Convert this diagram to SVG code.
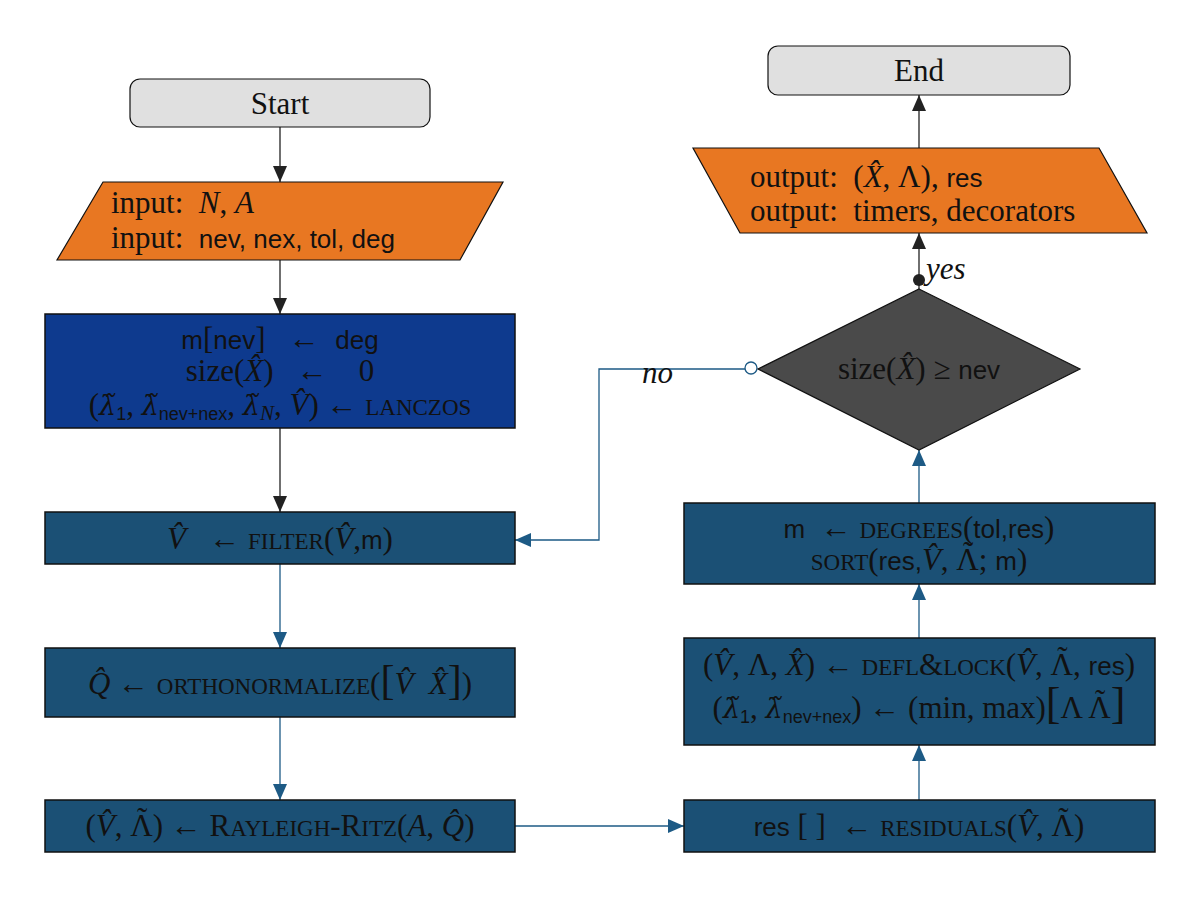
<svg xmlns="http://www.w3.org/2000/svg" width="1200" height="898" viewBox="0 0 1200 898">
<style>
text{white-space:pre}
.t{font-family:"Liberation Serif","DejaVu Serif",serif;font-size:31px;fill:#111;text-anchor:middle}
.tl{font-family:"Liberation Serif","DejaVu Serif",serif;font-size:31px;fill:#111}
.s{font-family:"Liberation Sans","DejaVu Sans",sans-serif;font-size:26px}
.i{font-style:italic}
.d{font-family:"DejaVu Serif",serif;font-size:27px}
.sc{font-size:23px}
.sub{font-family:"Liberation Sans","DejaVu Sans",sans-serif;font-size:18px}
.term{fill:#e0e0e0;stroke:#111;stroke-width:1.2}
.io{fill:#e87722;stroke:#111;stroke-width:1.2}
.init{fill:#0e3a8e;stroke:#111;stroke-width:1.5}
.proc{fill:#1b5075;stroke:#111;stroke-width:1.5}
.dec{fill:#4a4a4a;stroke:#111;stroke-width:1.2}
.ck{stroke:#222;stroke-width:1.3;fill:none}
.cb{stroke:#1d5a85;stroke-width:1.3;fill:none}
</style>
<defs>
<marker id="ak" viewBox="0 0 16 14" refX="16" refY="7" markerWidth="16" markerHeight="14" markerUnits="userSpaceOnUse" orient="auto"><path d="M0,0 L16,7 L0,14 Z" fill="#222"/></marker>
<marker id="ab" viewBox="0 0 16 14" refX="16" refY="7" markerWidth="16" markerHeight="14" markerUnits="userSpaceOnUse" orient="auto"><path d="M0,0 L16,7 L0,14 Z" fill="#1d5a85"/></marker>
</defs>
<rect width="1200" height="898" fill="#fff"/>

<g id="connectors">
<path class="ck" d="M280,127 V182" marker-end="url(#ak)"/>
<path class="ck" d="M280,260 V314" marker-end="url(#ak)"/>
<path class="ck" d="M280,428 V512" marker-end="url(#ak)"/>
<path class="cb" d="M280,564 V648" marker-end="url(#ab)"/>
<path class="cb" d="M280,717 V800" marker-end="url(#ab)"/>
<path class="cb" d="M515,826 H684" marker-end="url(#ab)"/>
<path class="cb" d="M919,800 V745" marker-end="url(#ab)"/>
<path class="cb" d="M919,638 V584" marker-end="url(#ab)"/>
<path class="cb" d="M919,503 V450" marker-end="url(#ab)"/>
<path class="ck" d="M919,289 V233" marker-end="url(#ak)"/>
<circle cx="919" cy="280" r="6" fill="#222"/>
<text class="tl i" x="926" y="279" font-size="26">yes</text>
<path class="cb" d="M752,369 H599 V540 H515" marker-end="url(#ab)"/>
<circle cx="751" cy="368" r="6" fill="#fff" stroke="#1d5a85" stroke-width="1.3"/>
<text class="tl i" x="642" y="383" font-size="26">no</text>
<path class="ck" d="M919,148 V95" marker-end="url(#ak)"/>
</g>

<g id="start">
<rect class="term" x="130" y="79" width="300" height="48" rx="10"/>
<text class="t" x="280" y="114">Start</text>
</g>

<g id="input">
<path class="io" d="M103,182 H503 L460,260 H57 Z"/>
<text class="tl" x="111" y="213">input:  <tspan class="i">N</tspan>, <tspan class="i">A</tspan></text>
<text class="tl" x="111" y="248">input:  <tspan class="s">nev, nex, tol, deg</tspan></text>
</g>

<g id="init">
<rect class="init" x="45" y="314" width="470" height="114"/>
<text class="t" x="280" y="349"><tspan class="s">m</tspan>[<tspan class="s">nev</tspan>]   ←  <tspan class="s">deg</tspan></text>
<text class="t" x="280" y="381">size(<tspan class="i">X̂</tspan>)   ←    0</text>
<text class="t" x="280" y="415">(<tspan class="d i">λ̃</tspan><tspan class="sub" dy="5">1</tspan><tspan dy="-5">, </tspan><tspan class="d i">λ̃</tspan><tspan class="sub" dy="5">nev+nex</tspan><tspan dy="-5">, </tspan><tspan class="d i">λ̃</tspan><tspan class="i" font-size="21" dy="5">N</tspan><tspan dy="-5">, </tspan><tspan class="i">V̂</tspan>) ← <tspan class="sc">LANCZOS</tspan></text>
</g>

<g id="filter">
<rect class="proc" x="45" y="512" width="470" height="52"/>
<text class="t" x="280" y="549"><tspan class="i">V̂</tspan>   ← <tspan class="sc">FILTER</tspan>(<tspan class="i">V̂</tspan>,<tspan class="s">m</tspan>)</text>
</g>

<g id="ortho">
<rect class="proc" x="45" y="648" width="470" height="69"/>
<text class="t" x="280" y="694"><tspan class="i">Q̂</tspan> ← <tspan class="sc">ORTHONORMALIZE</tspan>(<tspan font-size="42">[</tspan><tspan class="i">V̂</tspan>  <tspan class="i">X̂</tspan><tspan font-size="42">]</tspan>)</text>
</g>

<g id="rr">
<rect class="proc" x="45" y="800" width="470" height="52"/>
<text class="t" x="280" y="836">(<tspan class="i">V̂</tspan>, Λ<tspan dx="-15.7" dy="-7">˜</tspan><tspan dx="5.4" dy="7">) ← R</tspan><tspan class="sc">AYLEIGH</tspan>-R<tspan class="sc">ITZ</tspan>(<tspan class="i">A</tspan>, <tspan class="i">Q̂</tspan>)</text>
</g>

<g id="residuals">
<rect class="proc" x="684" y="800" width="471" height="52"/>
<text class="t" x="919" y="836"><tspan class="s">res</tspan> [ ]  ← <tspan class="sc">RESIDUALS</tspan>(<tspan class="i">V̂</tspan>, Λ<tspan dx="-15.7" dy="-7">˜</tspan><tspan dx="5.4" dy="7">)</tspan></text>
</g>

<g id="defl">
<rect class="proc" x="684" y="638" width="471" height="107"/>
<text class="t" x="919" y="675">(<tspan class="i">V̂</tspan>, Λ, <tspan class="i">X̂</tspan>) ← <tspan class="sc">DEFL</tspan>&amp;<tspan class="sc">LOCK</tspan>(<tspan class="i">V̂</tspan>, Λ<tspan dx="-15.7" dy="-7">˜</tspan><tspan dx="5.4" dy="7">, </tspan><tspan class="s">res</tspan>)</text>
<text class="t" x="919" y="718">(<tspan class="d i">λ̃</tspan><tspan class="sub" dy="5">1</tspan><tspan dy="-5">, </tspan><tspan class="d i">λ̃</tspan><tspan class="sub" dy="5">nev+nex</tspan><tspan dy="-5">) ← (min, max)</tspan><tspan font-size="44">[</tspan>Λ Λ<tspan dx="-15.7" dy="-7">˜</tspan><tspan dx="5.4" dy="7" font-size="44">]</tspan></text>
</g>

<g id="degrees">
<rect class="proc" x="684" y="503" width="471" height="81"/>
<text class="t" x="919" y="538"><tspan class="s">m</tspan>  ← <tspan class="sc">DEGREES</tspan>(<tspan class="s">tol,res</tspan>)</text>
<text class="t" x="919" y="570"><tspan class="sc">SORT</tspan>(<tspan class="s">res,</tspan><tspan class="i">V̂</tspan>, Λ<tspan dx="-15.7" dy="-7">˜</tspan><tspan dx="5.4" dy="7">; </tspan><tspan class="s">m</tspan>)</text>
</g>

<g id="decision">
<path class="dec" d="M919,289 L1080,369 L919,450 L758,369 Z"/>
<text class="t" x="919" y="379">size(<tspan class="i">X̂</tspan>) ≥ <tspan class="s">nev</tspan></text>
</g>

<g id="output">
<path class="io" d="M693,148 H1099 L1147,233 H740 Z"/>
<text class="tl" x="750" y="187">output:  (<tspan class="i">X̂</tspan>, Λ), <tspan class="s">res</tspan></text>
<text class="tl" x="750" y="221">output:  timers, decorators</text>
</g>

<g id="end">
<rect class="term" x="768" y="46" width="302" height="49" rx="10"/>
<text class="t" x="919" y="81">End</text>
</g>
</svg>
